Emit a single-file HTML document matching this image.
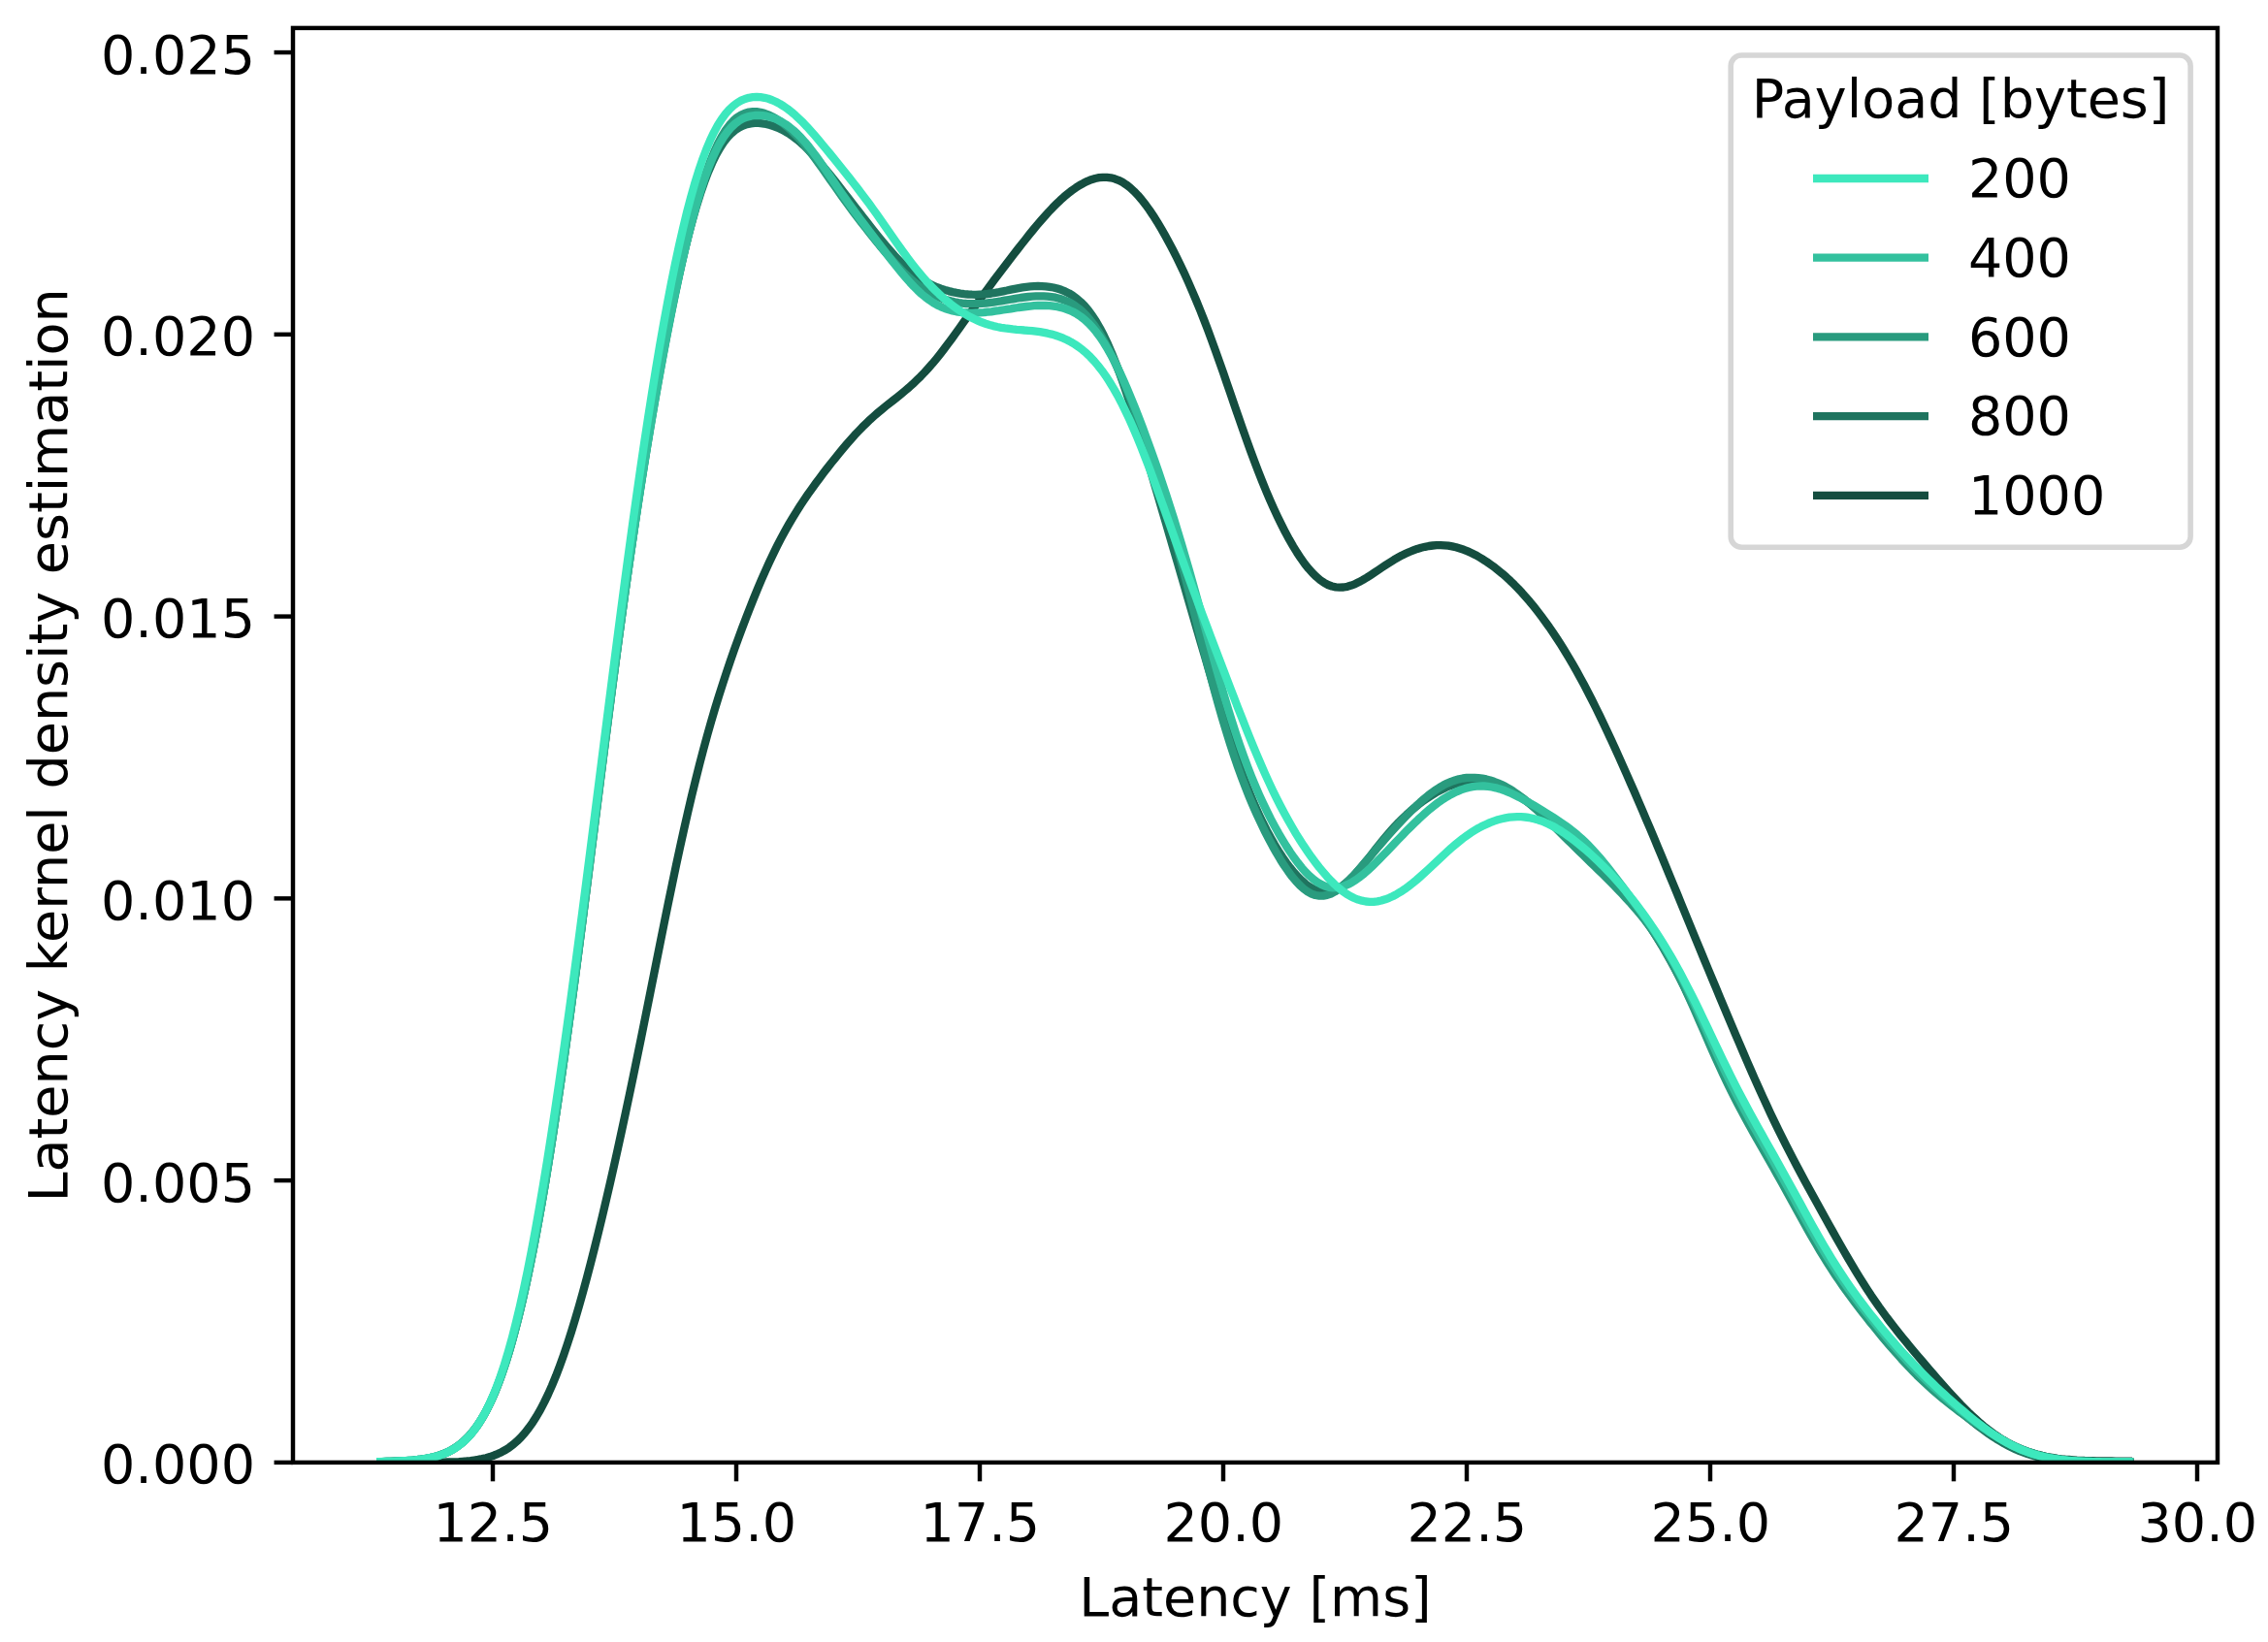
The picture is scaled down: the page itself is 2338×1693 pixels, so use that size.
<!DOCTYPE html>
<html lang="en"><head><meta charset="utf-8"><title>Latency kernel density estimation</title>
<style>html,body{margin:0;padding:0;background:#fff;}body{width:2338px;height:1693px;overflow:hidden;}svg{display:block;}text{font-family:"DejaVu Sans","Liberation Sans",sans-serif;font-size:55.56px;fill:#000;}</style></head><body>
<svg xmlns="http://www.w3.org/2000/svg" width="2338" height="1693" viewBox="0 0 2338 1693">
<rect x="0" y="0" width="2338" height="1693" fill="#ffffff"/>
<defs><clipPath id="axclip"><rect x="302.00" y="28.90" width="1984.00" height="1479.00"/></clipPath></defs>
<g clip-path="url(#axclip)" fill="none" stroke-width="8.33" stroke-linejoin="round" stroke-linecap="butt">
<path d="M441.0 1507.7 L445.0 1507.7 L449.0 1507.7 L453.0 1507.7 L457.0 1507.6 L461.0 1507.5 L465.0 1507.4 L469.0 1507.3 L473.0 1507.1 L477.0 1506.8 L481.0 1506.5 L485.0 1506.1 L489.0 1505.5 L493.0 1504.9 L497.0 1504.1 L501.0 1503.2 L505.0 1502.1 L509.0 1500.7 L513.0 1499.1 L517.0 1497.2 L521.0 1495.0 L525.0 1492.4 L529.0 1489.4 L533.0 1485.9 L537.0 1482.0 L541.0 1477.5 L545.0 1472.4 L549.0 1466.8 L553.0 1460.5 L557.0 1453.6 L561.0 1445.9 L565.0 1437.6 L569.0 1428.6 L573.0 1418.9 L577.0 1408.4 L581.0 1397.3 L585.0 1385.5 L589.0 1373.1 L593.0 1360.0 L597.0 1346.3 L601.0 1332.1 L605.0 1317.4 L609.0 1302.1 L613.0 1286.4 L617.0 1270.3 L621.0 1253.7 L625.0 1236.8 L629.0 1219.5 L633.0 1201.8 L637.0 1183.8 L641.0 1165.5 L645.0 1146.9 L649.0 1128.0 L653.0 1108.8 L657.0 1089.4 L661.0 1069.8 L665.0 1050.0 L669.0 1030.1 L673.0 1010.1 L677.0 990.1 L681.0 970.1 L685.0 950.3 L689.0 930.6 L693.0 911.3 L697.0 892.2 L701.0 873.6 L705.0 855.5 L709.0 837.9 L713.0 820.8 L717.0 804.4 L721.0 788.5 L725.0 773.2 L729.0 758.5 L733.0 744.4 L737.0 730.8 L741.0 717.8 L745.0 705.2 L749.0 693.0 L753.0 681.2 L757.0 669.7 L761.0 658.6 L765.0 647.7 L769.0 637.2 L773.0 626.9 L777.0 616.9 L781.0 607.2 L785.0 597.7 L789.0 588.6 L793.0 579.8 L797.0 571.4 L801.0 563.2 L805.0 555.4 L809.0 548.0 L813.0 540.9 L817.0 534.1 L821.0 527.6 L825.0 521.3 L829.0 515.3 L833.0 509.4 L837.0 503.8 L841.0 498.3 L845.0 492.9 L849.0 487.6 L853.0 482.4 L857.0 477.3 L861.0 472.3 L865.0 467.3 L869.0 462.5 L873.0 457.8 L877.0 453.2 L881.0 448.7 L885.0 444.5 L889.0 440.3 L893.0 436.4 L897.0 432.6 L901.0 429.0 L905.0 425.5 L909.0 422.2 L913.0 418.9 L917.0 415.7 L921.0 412.6 L925.0 409.4 L929.0 406.2 L933.0 402.9 L937.0 399.5 L941.0 395.9 L945.0 392.1 L949.0 388.2 L953.0 384.0 L957.0 379.6 L961.0 375.1 L965.0 370.3 L969.0 365.3 L973.0 360.1 L977.0 354.8 L981.0 349.4 L985.0 343.9 L989.0 338.3 L993.0 332.7 L997.0 327.1 L1001.0 321.5 L1005.0 315.9 L1009.0 310.3 L1013.0 304.8 L1017.0 299.4 L1021.0 294.0 L1025.0 288.6 L1029.0 283.3 L1033.0 278.0 L1037.0 272.7 L1041.0 267.5 L1045.0 262.3 L1049.0 257.1 L1053.0 252.0 L1057.0 247.0 L1061.0 241.9 L1065.0 237.0 L1069.0 232.2 L1073.0 227.5 L1077.0 222.9 L1081.0 218.5 L1085.0 214.3 L1089.0 210.3 L1093.0 206.4 L1097.0 202.8 L1101.0 199.5 L1105.0 196.4 L1109.0 193.6 L1113.0 191.0 L1117.0 188.8 L1121.0 186.8 L1125.0 185.2 L1129.0 184.0 L1133.0 183.2 L1137.0 182.8 L1141.0 182.8 L1145.0 183.3 L1149.0 184.3 L1153.0 185.8 L1157.0 187.8 L1161.0 190.4 L1165.0 193.5 L1169.0 197.2 L1173.0 201.3 L1177.0 206.0 L1181.0 211.1 L1185.0 216.6 L1189.0 222.6 L1193.0 228.9 L1197.0 235.6 L1201.0 242.6 L1205.0 249.9 L1209.0 257.5 L1213.0 265.4 L1217.0 273.6 L1221.0 282.1 L1225.0 290.9 L1229.0 300.1 L1233.0 309.5 L1237.0 319.3 L1241.0 329.4 L1245.0 339.8 L1249.0 350.6 L1253.0 361.6 L1257.0 372.8 L1261.0 384.2 L1265.0 395.8 L1269.0 407.4 L1273.0 419.1 L1277.0 430.7 L1281.0 442.1 L1285.0 453.4 L1289.0 464.5 L1293.0 475.3 L1297.0 485.8 L1301.0 495.9 L1305.0 505.7 L1309.0 515.1 L1313.0 524.1 L1317.0 532.7 L1321.0 540.9 L1325.0 548.8 L1329.0 556.2 L1333.0 563.1 L1337.0 569.6 L1341.0 575.7 L1345.0 581.3 L1349.0 586.3 L1353.0 590.8 L1357.0 594.7 L1361.0 598.1 L1365.0 600.8 L1369.0 603.0 L1373.0 604.5 L1377.0 605.4 L1381.0 605.7 L1385.0 605.5 L1389.0 604.8 L1393.0 603.6 L1397.0 602.1 L1401.0 600.1 L1405.0 597.9 L1409.0 595.5 L1413.0 592.9 L1417.0 590.3 L1421.0 587.6 L1425.0 584.9 L1429.0 582.2 L1433.0 579.7 L1437.0 577.2 L1441.0 574.9 L1445.0 572.7 L1449.0 570.8 L1453.0 569.0 L1457.0 567.4 L1461.0 565.9 L1465.0 564.7 L1469.0 563.8 L1473.0 563.0 L1477.0 562.5 L1481.0 562.2 L1485.0 562.1 L1489.0 562.3 L1493.0 562.7 L1497.0 563.4 L1501.0 564.3 L1505.0 565.5 L1509.0 566.8 L1513.0 568.4 L1517.0 570.2 L1521.0 572.2 L1525.0 574.5 L1529.0 576.9 L1533.0 579.5 L1537.0 582.3 L1541.0 585.2 L1545.0 588.4 L1549.0 591.7 L1553.0 595.2 L1557.0 598.9 L1561.0 602.8 L1565.0 606.9 L1569.0 611.2 L1573.0 615.7 L1577.0 620.3 L1581.0 625.2 L1585.0 630.3 L1589.0 635.5 L1593.0 640.9 L1597.0 646.5 L1601.0 652.4 L1605.0 658.4 L1609.0 664.6 L1613.0 671.0 L1617.0 677.6 L1621.0 684.4 L1625.0 691.4 L1629.0 698.7 L1633.0 706.1 L1637.0 713.7 L1641.0 721.5 L1645.0 729.5 L1649.0 737.7 L1653.0 746.0 L1657.0 754.5 L1661.0 763.1 L1665.0 771.8 L1669.0 780.6 L1673.0 789.6 L1677.0 798.6 L1681.0 807.7 L1685.0 816.8 L1689.0 826.1 L1693.0 835.4 L1697.0 844.8 L1701.0 854.2 L1705.0 863.7 L1709.0 873.3 L1713.0 882.9 L1717.0 892.6 L1721.0 902.3 L1725.0 912.0 L1729.0 921.7 L1733.0 931.5 L1737.0 941.3 L1741.0 951.0 L1745.0 960.8 L1749.0 970.5 L1753.0 980.2 L1757.0 989.9 L1761.0 999.5 L1765.0 1009.1 L1769.0 1018.7 L1773.0 1028.3 L1777.0 1037.9 L1781.0 1047.4 L1785.0 1056.8 L1789.0 1066.3 L1793.0 1075.7 L1797.0 1085.0 L1801.0 1094.3 L1805.0 1103.5 L1809.0 1112.6 L1813.0 1121.5 L1817.0 1130.4 L1821.0 1139.1 L1825.0 1147.7 L1829.0 1156.1 L1833.0 1164.3 L1837.0 1172.4 L1841.0 1180.4 L1845.0 1188.2 L1849.0 1195.9 L1853.0 1203.5 L1857.0 1211.0 L1861.0 1218.4 L1865.0 1225.8 L1869.0 1233.1 L1873.0 1240.3 L1877.0 1247.6 L1881.0 1254.8 L1885.0 1262.0 L1889.0 1269.1 L1893.0 1276.3 L1897.0 1283.3 L1901.0 1290.3 L1905.0 1297.2 L1909.0 1303.9 L1913.0 1310.6 L1917.0 1317.1 L1921.0 1323.5 L1925.0 1329.7 L1929.0 1335.8 L1933.0 1341.6 L1937.0 1347.4 L1941.0 1352.9 L1945.0 1358.4 L1949.0 1363.6 L1953.0 1368.8 L1957.0 1373.9 L1961.0 1378.8 L1965.0 1383.7 L1969.0 1388.6 L1973.0 1393.4 L1977.0 1398.1 L1981.0 1402.8 L1985.0 1407.5 L1989.0 1412.2 L1993.0 1416.8 L1997.0 1421.4 L2001.0 1426.0 L2005.0 1430.5 L2009.0 1435.0 L2013.0 1439.4 L2017.0 1443.7 L2021.0 1447.9 L2025.0 1451.9 L2029.0 1455.9 L2033.0 1459.7 L2037.0 1463.4 L2041.0 1467.0 L2045.0 1470.4 L2049.0 1473.6 L2053.0 1476.6 L2057.0 1479.5 L2061.0 1482.2 L2065.0 1484.7 L2069.0 1487.0 L2073.0 1489.2 L2077.0 1491.2 L2081.0 1493.0 L2085.0 1494.7 L2089.0 1496.2 L2093.0 1497.6 L2097.0 1498.8 L2101.0 1499.9 L2105.0 1500.9 L2109.0 1501.8 L2113.0 1502.5 L2117.0 1503.2 L2121.0 1503.8 L2125.0 1504.3 L2129.0 1504.7 L2133.0 1505.0 L2137.0 1505.3 L2141.0 1505.6 L2145.0 1505.8 L2149.0 1506.0 L2153.0 1506.1 L2157.0 1506.2 L2161.0 1506.3 L2165.0 1506.4 L2169.0 1506.4 L2173.0 1506.5 L2177.0 1506.5 L2181.0 1506.6 L2185.0 1506.6 L2189.0 1506.6 L2193.0 1506.7 L2197.0 1506.7 L2198.0 1506.7" stroke="#144d3f"/>
<path d="M394.0 1507.1 L398.0 1507.0 L402.0 1506.9 L406.0 1506.7 L410.0 1506.6 L414.0 1506.4 L418.0 1506.2 L422.0 1505.9 L426.0 1505.6 L430.0 1505.2 L434.0 1504.7 L438.0 1504.1 L442.0 1503.4 L446.0 1502.5 L450.0 1501.5 L454.0 1500.2 L458.0 1498.7 L462.0 1497.0 L466.0 1494.9 L470.0 1492.4 L474.0 1489.5 L478.0 1486.2 L482.0 1482.3 L486.0 1477.9 L490.0 1472.8 L494.0 1467.1 L498.0 1460.5 L502.0 1453.2 L506.0 1445.0 L510.0 1436.0 L514.0 1425.9 L518.0 1414.8 L522.0 1402.7 L526.0 1389.5 L530.0 1375.2 L534.0 1359.8 L538.0 1343.2 L542.0 1325.5 L546.0 1306.6 L550.0 1286.5 L554.0 1265.3 L558.0 1243.0 L562.0 1219.7 L566.0 1195.2 L570.0 1169.8 L574.0 1143.4 L578.0 1116.2 L582.0 1088.1 L586.0 1059.2 L590.0 1029.7 L594.0 999.6 L598.0 969.0 L602.0 938.0 L606.0 906.7 L610.0 875.1 L614.0 843.5 L618.0 811.9 L622.0 780.4 L626.0 749.1 L630.0 718.2 L634.0 687.6 L638.0 657.5 L642.0 628.0 L646.0 599.1 L650.0 570.9 L654.0 543.4 L658.0 516.6 L662.0 490.5 L666.0 465.3 L670.0 440.8 L674.0 417.1 L678.0 394.2 L682.0 372.1 L686.0 350.8 L690.0 330.3 L694.0 310.6 L698.0 291.9 L702.0 274.0 L706.0 257.1 L710.0 241.2 L714.0 226.3 L718.0 212.4 L722.0 199.7 L726.0 188.1 L730.0 177.6 L734.0 168.3 L738.0 160.0 L742.0 152.9 L746.0 146.8 L750.0 141.7 L754.0 137.5 L758.0 134.1 L762.0 131.5 L766.0 129.5 L770.0 128.1 L774.0 127.3 L778.0 126.9 L782.0 126.9 L786.0 127.3 L790.0 128.0 L794.0 129.0 L798.0 130.3 L802.0 131.8 L806.0 133.7 L810.0 135.9 L814.0 138.3 L818.0 141.1 L822.0 144.2 L826.0 147.6 L830.0 151.3 L834.0 155.3 L838.0 159.5 L842.0 163.9 L846.0 168.5 L850.0 173.3 L854.0 178.2 L858.0 183.2 L862.0 188.2 L866.0 193.3 L870.0 198.5 L874.0 203.6 L878.0 208.8 L882.0 214.0 L886.0 219.1 L890.0 224.3 L894.0 229.4 L898.0 234.5 L902.0 239.5 L906.0 244.5 L910.0 249.4 L914.0 254.2 L918.0 258.8 L922.0 263.3 L926.0 267.5 L930.0 271.6 L934.0 275.4 L938.0 278.9 L942.0 282.2 L946.0 285.2 L950.0 287.9 L954.0 290.3 L958.0 292.5 L962.0 294.4 L966.0 296.2 L970.0 297.7 L974.0 299.0 L978.0 300.1 L982.0 301.1 L986.0 301.9 L990.0 302.6 L994.0 303.1 L998.0 303.5 L1002.0 303.7 L1006.0 303.8 L1010.0 303.6 L1014.0 303.4 L1018.0 303.0 L1022.0 302.5 L1026.0 301.8 L1030.0 301.1 L1034.0 300.3 L1038.0 299.5 L1042.0 298.6 L1046.0 297.8 L1050.0 297.1 L1054.0 296.4 L1058.0 295.8 L1062.0 295.4 L1066.0 295.1 L1070.0 295.0 L1074.0 295.1 L1078.0 295.3 L1082.0 295.8 L1086.0 296.5 L1090.0 297.5 L1094.0 298.8 L1098.0 300.4 L1102.0 302.4 L1106.0 304.9 L1110.0 307.8 L1114.0 311.3 L1118.0 315.3 L1122.0 320.0 L1126.0 325.4 L1130.0 331.6 L1134.0 338.5 L1138.0 346.2 L1142.0 354.6 L1146.0 363.8 L1150.0 373.7 L1154.0 384.3 L1158.0 395.5 L1162.0 407.3 L1166.0 419.5 L1170.0 432.1 L1174.0 445.1 L1178.0 458.2 L1182.0 471.6 L1186.0 485.1 L1190.0 498.7 L1194.0 512.3 L1198.0 526.0 L1202.0 539.6 L1206.0 553.3 L1210.0 567.0 L1214.0 580.6 L1218.0 594.3 L1222.0 608.0 L1226.0 621.8 L1230.0 635.5 L1234.0 649.3 L1238.0 663.0 L1242.0 676.7 L1246.0 690.3 L1250.0 703.8 L1254.0 717.2 L1258.0 730.3 L1262.0 743.2 L1266.0 755.7 L1270.0 767.9 L1274.0 779.6 L1278.0 790.9 L1282.0 801.8 L1286.0 812.1 L1290.0 821.9 L1294.0 831.3 L1298.0 840.1 L1302.0 848.5 L1306.0 856.4 L1310.0 863.8 L1314.0 870.8 L1318.0 877.4 L1322.0 883.6 L1326.0 889.4 L1330.0 894.7 L1334.0 899.6 L1338.0 904.1 L1342.0 908.0 L1346.0 911.5 L1350.0 914.4 L1354.0 916.7 L1358.0 918.3 L1362.0 919.4 L1366.0 919.7 L1370.0 919.4 L1374.0 918.4 L1378.0 916.7 L1382.0 914.5 L1386.0 911.6 L1390.0 908.2 L1394.0 904.3 L1398.0 900.1 L1402.0 895.5 L1406.0 890.7 L1410.0 885.8 L1414.0 880.7 L1418.0 875.6 L1422.0 870.6 L1426.0 865.7 L1430.0 860.9 L1434.0 856.3 L1438.0 851.9 L1442.0 847.7 L1446.0 843.7 L1450.0 839.9 L1454.0 836.3 L1458.0 833.0 L1462.0 829.7 L1466.0 826.7 L1470.0 823.9 L1474.0 821.2 L1478.0 818.7 L1482.0 816.3 L1486.0 814.2 L1490.0 812.2 L1494.0 810.5 L1498.0 809.0 L1502.0 807.7 L1506.0 806.6 L1510.0 805.8 L1514.0 805.3 L1518.0 805.0 L1522.0 805.0 L1526.0 805.2 L1530.0 805.7 L1534.0 806.5 L1538.0 807.5 L1542.0 808.8 L1546.0 810.3 L1550.0 812.0 L1554.0 814.0 L1558.0 816.1 L1562.0 818.5 L1566.0 821.0 L1570.0 823.6 L1574.0 826.4 L1578.0 829.4 L1582.0 832.4 L1586.0 835.4 L1590.0 838.6 L1594.0 841.7 L1598.0 844.9 L1602.0 848.1 L1606.0 851.3 L1610.0 854.5 L1614.0 857.8 L1618.0 861.0 L1622.0 864.3 L1626.0 867.6 L1630.0 871.0 L1634.0 874.5 L1638.0 878.1 L1642.0 881.8 L1646.0 885.7 L1650.0 889.7 L1654.0 893.9 L1658.0 898.3 L1662.0 902.8 L1666.0 907.5 L1670.0 912.4 L1674.0 917.5 L1678.0 922.7 L1682.0 928.1 L1686.0 933.6 L1690.0 939.2 L1694.0 945.0 L1698.0 950.9 L1702.0 957.1 L1706.0 963.3 L1710.0 969.8 L1714.0 976.4 L1718.0 983.3 L1722.0 990.4 L1726.0 997.7 L1730.0 1005.3 L1734.0 1013.0 L1738.0 1021.1 L1742.0 1029.3 L1746.0 1037.7 L1750.0 1046.2 L1754.0 1054.9 L1758.0 1063.6 L1762.0 1072.3 L1766.0 1081.1 L1770.0 1089.8 L1774.0 1098.3 L1778.0 1106.8 L1782.0 1115.1 L1786.0 1123.3 L1790.0 1131.3 L1794.0 1139.1 L1798.0 1146.8 L1802.0 1154.3 L1806.0 1161.7 L1810.0 1168.9 L1814.0 1176.2 L1818.0 1183.3 L1822.0 1190.4 L1826.0 1197.5 L1830.0 1204.7 L1834.0 1211.8 L1838.0 1218.9 L1842.0 1226.1 L1846.0 1233.3 L1850.0 1240.5 L1854.0 1247.6 L1858.0 1254.8 L1862.0 1261.8 L1866.0 1268.8 L1870.0 1275.7 L1874.0 1282.5 L1878.0 1289.2 L1882.0 1295.7 L1886.0 1302.1 L1890.0 1308.3 L1894.0 1314.4 L1898.0 1320.4 L1902.0 1326.2 L1906.0 1331.9 L1910.0 1337.5 L1914.0 1343.0 L1918.0 1348.3 L1922.0 1353.6 L1926.0 1358.8 L1930.0 1363.8 L1934.0 1368.8 L1938.0 1373.7 L1942.0 1378.5 L1946.0 1383.2 L1950.0 1387.8 L1954.0 1392.3 L1958.0 1396.7 L1962.0 1401.1 L1966.0 1405.3 L1970.0 1409.4 L1974.0 1413.4 L1978.0 1417.3 L1982.0 1421.1 L1986.0 1424.9 L1990.0 1428.6 L1994.0 1432.2 L1998.0 1435.8 L2002.0 1439.3 L2006.0 1442.8 L2010.0 1446.3 L2014.0 1449.7 L2018.0 1453.1 L2022.0 1456.5 L2026.0 1459.8 L2030.0 1463.1 L2034.0 1466.3 L2038.0 1469.4 L2042.0 1472.5 L2046.0 1475.4 L2050.0 1478.3 L2054.0 1481.0 L2058.0 1483.6 L2062.0 1486.0 L2066.0 1488.4 L2070.0 1490.5 L2074.0 1492.5 L2078.0 1494.4 L2082.0 1496.1 L2086.0 1497.6 L2090.0 1499.0 L2094.0 1500.3 L2098.0 1501.4 L2102.0 1502.4 L2106.0 1503.3 L2110.0 1504.0 L2114.0 1504.7 L2118.0 1505.2 L2122.0 1505.7 L2126.0 1506.1 L2130.0 1506.5 L2134.0 1506.7 L2138.0 1507.0 L2142.0 1507.2 L2146.0 1507.3 L2150.0 1507.4 L2154.0 1507.5 L2158.0 1507.6 L2162.0 1507.6 L2166.0 1507.6 L2170.0 1507.6 L2174.0 1507.6 L2178.0 1507.6 L2182.0 1507.6 L2186.0 1507.6 L2190.0 1507.5 L2194.0 1507.5 L2198.0 1507.4 L2199.0 1507.4" stroke="#1f745f"/>
<path d="M392.0 1507.2 L396.0 1507.1 L400.0 1507.0 L404.0 1506.9 L408.0 1506.7 L412.0 1506.5 L416.0 1506.3 L420.0 1506.1 L424.0 1505.8 L428.0 1505.4 L432.0 1505.0 L436.0 1504.4 L440.0 1503.8 L444.0 1503.0 L448.0 1502.0 L452.0 1500.9 L456.0 1499.5 L460.0 1497.8 L464.0 1495.9 L468.0 1493.6 L472.0 1490.9 L476.0 1487.8 L480.0 1484.2 L484.0 1480.0 L488.0 1475.3 L492.0 1469.9 L496.0 1463.8 L500.0 1456.9 L504.0 1449.2 L508.0 1440.6 L512.0 1431.1 L516.0 1420.6 L520.0 1409.0 L524.0 1396.5 L528.0 1382.8 L532.0 1368.0 L536.0 1352.0 L540.0 1334.9 L544.0 1316.6 L548.0 1297.2 L552.0 1276.6 L556.0 1254.8 L560.0 1232.0 L564.0 1208.0 L568.0 1183.0 L572.0 1156.9 L576.0 1130.0 L580.0 1102.1 L584.0 1073.5 L588.0 1044.1 L592.0 1014.0 L596.0 983.4 L600.0 952.4 L604.0 921.1 L608.0 889.5 L612.0 857.8 L616.0 826.1 L620.0 794.6 L624.0 763.2 L628.0 732.2 L632.0 701.7 L636.0 671.6 L640.0 642.1 L644.0 613.2 L648.0 585.1 L652.0 557.6 L656.0 530.9 L660.0 504.9 L664.0 479.7 L668.0 455.2 L672.0 431.4 L676.0 408.3 L680.0 385.9 L684.0 364.2 L688.0 343.2 L692.0 322.9 L696.0 303.3 L700.0 284.4 L704.0 266.4 L708.0 249.2 L712.0 232.9 L716.0 217.6 L720.0 203.2 L724.0 190.0 L728.0 177.8 L732.0 166.8 L736.0 157.0 L740.0 148.3 L744.0 140.7 L748.0 134.3 L752.0 128.9 L756.0 124.5 L760.0 121.0 L764.0 118.5 L768.0 116.7 L772.0 115.6 L776.0 115.1 L780.0 115.2 L784.0 115.8 L788.0 116.8 L792.0 118.3 L796.0 120.2 L800.0 122.4 L804.0 125.0 L808.0 128.0 L812.0 131.3 L816.0 135.0 L820.0 138.9 L824.0 143.2 L828.0 147.8 L832.0 152.7 L836.0 157.8 L840.0 163.1 L844.0 168.6 L848.0 174.1 L852.0 179.8 L856.0 185.5 L860.0 191.2 L864.0 196.9 L868.0 202.5 L872.0 208.0 L876.0 213.5 L880.0 218.9 L884.0 224.2 L888.0 229.4 L892.0 234.5 L896.0 239.6 L900.0 244.6 L904.0 249.6 L908.0 254.5 L912.0 259.2 L916.0 263.9 L920.0 268.5 L924.0 272.9 L928.0 277.2 L932.0 281.2 L936.0 285.0 L940.0 288.6 L944.0 292.0 L948.0 295.1 L952.0 297.9 L956.0 300.4 L960.0 302.7 L964.0 304.7 L968.0 306.5 L972.0 308.0 L976.0 309.4 L980.0 310.4 L984.0 311.3 L988.0 312.1 L992.0 312.6 L996.0 313.0 L1000.0 313.2 L1004.0 313.2 L1008.0 313.1 L1012.0 312.9 L1016.0 312.6 L1020.0 312.1 L1024.0 311.6 L1028.0 311.0 L1032.0 310.4 L1036.0 309.7 L1040.0 309.0 L1044.0 308.3 L1048.0 307.6 L1052.0 307.0 L1056.0 306.5 L1060.0 306.0 L1064.0 305.7 L1068.0 305.4 L1072.0 305.3 L1076.0 305.4 L1080.0 305.6 L1084.0 306.1 L1088.0 306.7 L1092.0 307.7 L1096.0 309.0 L1100.0 310.6 L1104.0 312.6 L1108.0 315.1 L1112.0 318.0 L1116.0 321.5 L1120.0 325.5 L1124.0 330.2 L1128.0 335.4 L1132.0 341.3 L1136.0 347.7 L1140.0 354.8 L1144.0 362.5 L1148.0 370.7 L1152.0 379.5 L1156.0 388.7 L1160.0 398.4 L1164.0 408.6 L1168.0 419.1 L1172.0 430.0 L1176.0 441.2 L1180.0 452.8 L1184.0 464.7 L1188.0 477.0 L1192.0 489.6 L1196.0 502.7 L1200.0 516.0 L1204.0 529.8 L1208.0 544.0 L1212.0 558.5 L1216.0 573.3 L1220.0 588.5 L1224.0 603.9 L1228.0 619.5 L1232.0 635.2 L1236.0 650.9 L1240.0 666.6 L1244.0 682.1 L1248.0 697.3 L1252.0 712.1 L1256.0 726.6 L1260.0 740.5 L1264.0 753.9 L1268.0 766.7 L1272.0 779.0 L1276.0 790.6 L1280.0 801.6 L1284.0 812.1 L1288.0 822.1 L1292.0 831.5 L1296.0 840.5 L1300.0 849.1 L1304.0 857.3 L1308.0 865.1 L1312.0 872.6 L1316.0 879.7 L1320.0 886.4 L1324.0 892.7 L1328.0 898.5 L1332.0 903.9 L1336.0 908.7 L1340.0 912.9 L1344.0 916.5 L1348.0 919.4 L1352.0 921.6 L1356.0 923.0 L1360.0 923.7 L1364.0 923.7 L1368.0 922.9 L1372.0 921.5 L1376.0 919.4 L1380.0 916.8 L1384.0 913.7 L1388.0 910.1 L1392.0 906.2 L1396.0 902.0 L1400.0 897.6 L1404.0 893.0 L1408.0 888.3 L1412.0 883.6 L1416.0 878.9 L1420.0 874.1 L1424.0 869.5 L1428.0 864.8 L1432.0 860.3 L1436.0 855.8 L1440.0 851.4 L1444.0 847.1 L1448.0 842.9 L1452.0 838.8 L1456.0 834.8 L1460.0 830.9 L1464.0 827.2 L1468.0 823.7 L1472.0 820.4 L1476.0 817.3 L1480.0 814.5 L1484.0 811.9 L1488.0 809.6 L1492.0 807.6 L1496.0 805.9 L1500.0 804.5 L1504.0 803.3 L1508.0 802.5 L1512.0 802.0 L1516.0 801.8 L1520.0 801.8 L1524.0 802.1 L1528.0 802.6 L1532.0 803.4 L1536.0 804.5 L1540.0 805.8 L1544.0 807.3 L1548.0 809.1 L1552.0 811.1 L1556.0 813.4 L1560.0 815.9 L1564.0 818.6 L1568.0 821.5 L1572.0 824.6 L1576.0 827.9 L1580.0 831.3 L1584.0 834.9 L1588.0 838.6 L1592.0 842.4 L1596.0 846.2 L1600.0 850.1 L1604.0 854.1 L1608.0 858.0 L1612.0 862.0 L1616.0 865.9 L1620.0 869.8 L1624.0 873.8 L1628.0 877.7 L1632.0 881.6 L1636.0 885.5 L1640.0 889.4 L1644.0 893.3 L1648.0 897.2 L1652.0 901.1 L1656.0 905.1 L1660.0 909.1 L1664.0 913.2 L1668.0 917.3 L1672.0 921.5 L1676.0 925.8 L1680.0 930.1 L1684.0 934.7 L1688.0 939.3 L1692.0 944.2 L1696.0 949.2 L1700.0 954.6 L1704.0 960.2 L1708.0 966.1 L1712.0 972.3 L1716.0 978.9 L1720.0 985.9 L1724.0 993.3 L1728.0 1001.0 L1732.0 1009.0 L1736.0 1017.3 L1740.0 1026.0 L1744.0 1034.8 L1748.0 1043.8 L1752.0 1053.0 L1756.0 1062.2 L1760.0 1071.4 L1764.0 1080.5 L1768.0 1089.5 L1772.0 1098.3 L1776.0 1107.0 L1780.0 1115.4 L1784.0 1123.6 L1788.0 1131.6 L1792.0 1139.4 L1796.0 1146.9 L1800.0 1154.3 L1804.0 1161.5 L1808.0 1168.7 L1812.0 1175.7 L1816.0 1182.7 L1820.0 1189.7 L1824.0 1196.7 L1828.0 1203.8 L1832.0 1210.9 L1836.0 1218.0 L1840.0 1225.2 L1844.0 1232.5 L1848.0 1239.7 L1852.0 1247.0 L1856.0 1254.3 L1860.0 1261.5 L1864.0 1268.6 L1868.0 1275.6 L1872.0 1282.5 L1876.0 1289.3 L1880.0 1295.8 L1884.0 1302.3 L1888.0 1308.5 L1892.0 1314.6 L1896.0 1320.5 L1900.0 1326.3 L1904.0 1331.9 L1908.0 1337.4 L1912.0 1342.7 L1916.0 1348.0 L1920.0 1353.2 L1924.0 1358.3 L1928.0 1363.3 L1932.0 1368.2 L1936.0 1373.1 L1940.0 1378.0 L1944.0 1382.8 L1948.0 1387.5 L1952.0 1392.1 L1956.0 1396.6 L1960.0 1401.1 L1964.0 1405.4 L1968.0 1409.7 L1972.0 1413.8 L1976.0 1417.9 L1980.0 1421.8 L1984.0 1425.6 L1988.0 1429.3 L1992.0 1432.9 L1996.0 1436.4 L2000.0 1439.7 L2004.0 1443.1 L2008.0 1446.3 L2012.0 1449.4 L2016.0 1452.5 L2020.0 1455.6 L2024.0 1458.5 L2028.0 1461.4 L2032.0 1464.3 L2036.0 1467.1 L2040.0 1469.8 L2044.0 1472.5 L2048.0 1475.1 L2052.0 1477.7 L2056.0 1480.1 L2060.0 1482.5 L2064.0 1484.7 L2068.0 1486.9 L2072.0 1488.9 L2076.0 1490.8 L2080.0 1492.6 L2084.0 1494.3 L2088.0 1495.8 L2092.0 1497.3 L2096.0 1498.6 L2100.0 1499.8 L2104.0 1500.9 L2108.0 1501.8 L2112.0 1502.7 L2116.0 1503.4 L2120.0 1504.1 L2124.0 1504.7 L2128.0 1505.2 L2132.0 1505.6 L2136.0 1506.0 L2140.0 1506.3 L2144.0 1506.6 L2148.0 1506.8 L2152.0 1507.0 L2156.0 1507.1 L2160.0 1507.2 L2164.0 1507.3 L2168.0 1507.4 L2172.0 1507.4 L2176.0 1507.4 L2180.0 1507.5 L2184.0 1507.5 L2188.0 1507.5 L2192.0 1507.5 L2196.0 1507.5 L2200.0 1507.4" stroke="#299b7e"/>
<path d="M390.0 1507.2 L394.0 1507.1 L398.0 1507.0 L402.0 1506.9 L406.0 1506.8 L410.0 1506.6 L414.0 1506.4 L418.0 1506.2 L422.0 1505.9 L426.0 1505.6 L430.0 1505.2 L434.0 1504.7 L438.0 1504.1 L442.0 1503.4 L446.0 1502.5 L450.0 1501.5 L454.0 1500.2 L458.0 1498.7 L462.0 1496.9 L466.0 1494.8 L470.0 1492.3 L474.0 1489.4 L478.0 1486.1 L482.0 1482.2 L486.0 1477.8 L490.0 1472.7 L494.0 1466.9 L498.0 1460.4 L502.0 1453.2 L506.0 1445.0 L510.0 1436.0 L514.0 1426.0 L518.0 1415.0 L522.0 1402.9 L526.0 1389.8 L530.0 1375.5 L534.0 1360.2 L538.0 1343.6 L542.0 1325.9 L546.0 1307.0 L550.0 1287.0 L554.0 1265.8 L558.0 1243.5 L562.0 1220.0 L566.0 1195.5 L570.0 1169.9 L574.0 1143.4 L578.0 1116.0 L582.0 1087.7 L586.0 1058.7 L590.0 1029.0 L594.0 998.7 L598.0 967.9 L602.0 936.8 L606.0 905.3 L610.0 873.7 L614.0 842.1 L618.0 810.5 L622.0 779.1 L626.0 748.0 L630.0 717.2 L634.0 686.9 L638.0 657.2 L642.0 628.0 L646.0 599.4 L650.0 571.6 L654.0 544.4 L658.0 518.0 L662.0 492.2 L666.0 467.2 L670.0 442.9 L674.0 419.3 L678.0 396.4 L682.0 374.3 L686.0 352.8 L690.0 332.1 L694.0 312.1 L698.0 292.9 L702.0 274.6 L706.0 257.2 L710.0 240.7 L714.0 225.2 L718.0 210.7 L722.0 197.3 L726.0 185.1 L730.0 174.0 L734.0 164.1 L738.0 155.4 L742.0 147.7 L746.0 141.2 L750.0 135.7 L754.0 131.1 L758.0 127.4 L762.0 124.5 L766.0 122.2 L770.0 120.6 L774.0 119.6 L778.0 119.0 L782.0 118.9 L786.0 119.1 L790.0 119.7 L794.0 120.7 L798.0 122.0 L802.0 123.7 L806.0 125.8 L810.0 128.2 L814.0 131.1 L818.0 134.4 L822.0 138.1 L826.0 142.2 L830.0 146.7 L834.0 151.5 L838.0 156.7 L842.0 162.1 L846.0 167.7 L850.0 173.5 L854.0 179.3 L858.0 185.2 L862.0 191.1 L866.0 197.0 L870.0 202.7 L874.0 208.4 L878.0 214.0 L882.0 219.5 L886.0 224.9 L890.0 230.3 L894.0 235.6 L898.0 240.8 L902.0 246.1 L906.0 251.3 L910.0 256.5 L914.0 261.7 L918.0 266.9 L922.0 272.0 L926.0 277.0 L930.0 281.9 L934.0 286.6 L938.0 291.1 L942.0 295.4 L946.0 299.4 L950.0 303.1 L954.0 306.4 L958.0 309.4 L962.0 312.1 L966.0 314.4 L970.0 316.3 L974.0 318.0 L978.0 319.3 L982.0 320.4 L986.0 321.3 L990.0 321.9 L994.0 322.3 L998.0 322.5 L1002.0 322.6 L1006.0 322.5 L1010.0 322.4 L1014.0 322.1 L1018.0 321.7 L1022.0 321.3 L1026.0 320.7 L1030.0 320.2 L1034.0 319.5 L1038.0 318.9 L1042.0 318.3 L1046.0 317.6 L1050.0 317.0 L1054.0 316.5 L1058.0 316.0 L1062.0 315.6 L1066.0 315.2 L1070.0 315.0 L1074.0 314.9 L1078.0 315.0 L1082.0 315.2 L1086.0 315.6 L1090.0 316.2 L1094.0 317.1 L1098.0 318.3 L1102.0 319.7 L1106.0 321.5 L1110.0 323.7 L1114.0 326.4 L1118.0 329.5 L1122.0 333.2 L1126.0 337.4 L1130.0 342.2 L1134.0 347.5 L1138.0 353.5 L1142.0 360.1 L1146.0 367.2 L1150.0 374.9 L1154.0 383.1 L1158.0 391.8 L1162.0 400.9 L1166.0 410.5 L1170.0 420.4 L1174.0 430.6 L1178.0 441.1 L1182.0 451.9 L1186.0 462.9 L1190.0 474.2 L1194.0 485.7 L1198.0 497.5 L1202.0 509.6 L1206.0 522.0 L1210.0 534.6 L1214.0 547.6 L1218.0 560.9 L1222.0 574.6 L1226.0 588.5 L1230.0 602.6 L1234.0 617.0 L1238.0 631.5 L1242.0 646.1 L1246.0 660.7 L1250.0 675.2 L1254.0 689.6 L1258.0 703.7 L1262.0 717.5 L1266.0 730.9 L1270.0 743.8 L1274.0 756.2 L1278.0 768.1 L1282.0 779.5 L1286.0 790.2 L1290.0 800.5 L1294.0 810.2 L1298.0 819.4 L1302.0 828.1 L1306.0 836.4 L1310.0 844.4 L1314.0 851.9 L1318.0 859.1 L1322.0 865.9 L1326.0 872.4 L1330.0 878.5 L1334.0 884.3 L1338.0 889.7 L1342.0 894.7 L1346.0 899.2 L1350.0 903.2 L1354.0 906.7 L1358.0 909.6 L1362.0 911.9 L1366.0 913.7 L1370.0 914.8 L1374.0 915.3 L1378.0 915.2 L1382.0 914.6 L1386.0 913.4 L1390.0 911.7 L1394.0 909.6 L1398.0 907.0 L1402.0 904.1 L1406.0 900.9 L1410.0 897.4 L1414.0 893.7 L1418.0 889.8 L1422.0 885.8 L1426.0 881.7 L1430.0 877.6 L1434.0 873.4 L1438.0 869.2 L1442.0 865.0 L1446.0 860.8 L1450.0 856.7 L1454.0 852.7 L1458.0 848.8 L1462.0 844.9 L1466.0 841.2 L1470.0 837.6 L1474.0 834.2 L1478.0 831.0 L1482.0 827.9 L1486.0 825.1 L1490.0 822.5 L1494.0 820.1 L1498.0 818.0 L1502.0 816.1 L1506.0 814.4 L1510.0 813.1 L1514.0 812.0 L1518.0 811.2 L1522.0 810.7 L1526.0 810.5 L1530.0 810.5 L1534.0 810.9 L1538.0 811.5 L1542.0 812.3 L1546.0 813.4 L1550.0 814.7 L1554.0 816.3 L1558.0 818.0 L1562.0 819.9 L1566.0 821.9 L1570.0 824.1 L1574.0 826.3 L1578.0 828.6 L1582.0 830.9 L1586.0 833.3 L1590.0 835.8 L1594.0 838.2 L1598.0 840.7 L1602.0 843.3 L1606.0 845.9 L1610.0 848.6 L1614.0 851.4 L1618.0 854.4 L1622.0 857.5 L1626.0 860.8 L1630.0 864.3 L1634.0 868.1 L1638.0 872.0 L1642.0 876.3 L1646.0 880.7 L1650.0 885.3 L1654.0 890.1 L1658.0 895.1 L1662.0 900.2 L1666.0 905.5 L1670.0 910.8 L1674.0 916.1 L1678.0 921.5 L1682.0 927.0 L1686.0 932.4 L1690.0 937.9 L1694.0 943.5 L1698.0 949.1 L1702.0 954.8 L1706.0 960.7 L1710.0 966.8 L1714.0 973.1 L1718.0 979.6 L1722.0 986.4 L1726.0 993.6 L1730.0 1001.0 L1734.0 1008.7 L1738.0 1016.7 L1742.0 1025.0 L1746.0 1033.6 L1750.0 1042.3 L1754.0 1051.1 L1758.0 1060.0 L1762.0 1069.0 L1766.0 1077.9 L1770.0 1086.7 L1774.0 1095.4 L1778.0 1104.0 L1782.0 1112.3 L1786.0 1120.5 L1790.0 1128.4 L1794.0 1136.2 L1798.0 1143.7 L1802.0 1151.1 L1806.0 1158.4 L1810.0 1165.5 L1814.0 1172.6 L1818.0 1179.7 L1822.0 1186.7 L1826.0 1193.8 L1830.0 1200.9 L1834.0 1208.0 L1838.0 1215.2 L1842.0 1222.5 L1846.0 1229.7 L1850.0 1237.0 L1854.0 1244.4 L1858.0 1251.6 L1862.0 1258.9 L1866.0 1266.0 L1870.0 1273.0 L1874.0 1280.0 L1878.0 1286.7 L1882.0 1293.3 L1886.0 1299.8 L1890.0 1306.1 L1894.0 1312.2 L1898.0 1318.1 L1902.0 1323.9 L1906.0 1329.5 L1910.0 1335.0 L1914.0 1340.4 L1918.0 1345.7 L1922.0 1350.9 L1926.0 1356.0 L1930.0 1361.0 L1934.0 1366.0 L1938.0 1370.9 L1942.0 1375.7 L1946.0 1380.5 L1950.0 1385.2 L1954.0 1389.8 L1958.0 1394.3 L1962.0 1398.7 L1966.0 1403.1 L1970.0 1407.4 L1974.0 1411.5 L1978.0 1415.6 L1982.0 1419.6 L1986.0 1423.4 L1990.0 1427.2 L1994.0 1430.9 L1998.0 1434.5 L2002.0 1438.1 L2006.0 1441.6 L2010.0 1445.0 L2014.0 1448.3 L2018.0 1451.7 L2022.0 1454.9 L2026.0 1458.1 L2030.0 1461.2 L2034.0 1464.3 L2038.0 1467.3 L2042.0 1470.2 L2046.0 1473.1 L2050.0 1475.9 L2054.0 1478.5 L2058.0 1481.1 L2062.0 1483.5 L2066.0 1485.8 L2070.0 1488.0 L2074.0 1490.1 L2078.0 1492.0 L2082.0 1493.8 L2086.0 1495.4 L2090.0 1496.9 L2094.0 1498.3 L2098.0 1499.6 L2102.0 1500.7 L2106.0 1501.7 L2110.0 1502.6 L2114.0 1503.4 L2118.0 1504.0 L2122.0 1504.6 L2126.0 1505.1 L2130.0 1505.6 L2134.0 1505.9 L2138.0 1506.2 L2142.0 1506.5 L2146.0 1506.7 L2150.0 1506.9 L2154.0 1507.0 L2158.0 1507.1 L2162.0 1507.2 L2166.0 1507.3 L2170.0 1507.3 L2174.0 1507.4 L2178.0 1507.4 L2182.0 1507.4 L2186.0 1507.4 L2190.0 1507.4 L2194.0 1507.4 L2198.0 1507.4 L2199.0 1507.4" stroke="#33c19e"/>
<path d="M388.0 1507.2 L392.0 1507.2 L396.0 1507.0 L400.0 1506.9 L404.0 1506.8 L408.0 1506.6 L412.0 1506.4 L416.0 1506.2 L420.0 1506.0 L424.0 1505.6 L428.0 1505.3 L432.0 1504.8 L436.0 1504.3 L440.0 1503.7 L444.0 1502.9 L448.0 1502.0 L452.0 1500.9 L456.0 1499.6 L460.0 1498.0 L464.0 1496.1 L468.0 1493.9 L472.0 1491.2 L476.0 1488.2 L480.0 1484.6 L484.0 1480.4 L488.0 1475.6 L492.0 1470.1 L496.0 1463.8 L500.0 1456.7 L504.0 1448.7 L508.0 1439.8 L512.0 1429.8 L516.0 1418.8 L520.0 1406.7 L524.0 1393.4 L528.0 1379.0 L532.0 1363.4 L536.0 1346.6 L540.0 1328.6 L544.0 1309.5 L548.0 1289.2 L552.0 1267.8 L556.0 1245.3 L560.0 1221.8 L564.0 1197.4 L568.0 1171.9 L572.0 1145.7 L576.0 1118.6 L580.0 1090.8 L584.0 1062.3 L588.0 1033.2 L592.0 1003.6 L596.0 973.4 L600.0 942.9 L604.0 912.0 L608.0 880.9 L612.0 849.5 L616.0 818.0 L620.0 786.5 L624.0 754.9 L628.0 723.5 L632.0 692.3 L636.0 661.3 L640.0 630.6 L644.0 600.4 L648.0 570.6 L652.0 541.4 L656.0 512.8 L660.0 484.9 L664.0 457.7 L668.0 431.3 L672.0 405.8 L676.0 381.1 L680.0 357.3 L684.0 334.5 L688.0 312.7 L692.0 291.8 L696.0 272.1 L700.0 253.4 L704.0 235.8 L708.0 219.3 L712.0 204.0 L716.0 189.8 L720.0 176.9 L724.0 165.0 L728.0 154.4 L732.0 144.8 L736.0 136.4 L740.0 129.0 L744.0 122.7 L748.0 117.3 L752.0 112.7 L756.0 109.0 L760.0 106.0 L764.0 103.7 L768.0 102.0 L772.0 100.8 L776.0 100.2 L780.0 100.0 L784.0 100.2 L788.0 100.8 L792.0 101.8 L796.0 103.2 L800.0 105.0 L804.0 107.1 L808.0 109.6 L812.0 112.4 L816.0 115.5 L820.0 118.9 L824.0 122.7 L828.0 126.6 L832.0 130.8 L836.0 135.3 L840.0 139.8 L844.0 144.5 L848.0 149.3 L852.0 154.1 L856.0 159.0 L860.0 163.9 L864.0 168.9 L868.0 173.8 L872.0 178.8 L876.0 183.9 L880.0 189.0 L884.0 194.1 L888.0 199.4 L892.0 204.7 L896.0 210.1 L900.0 215.6 L904.0 221.2 L908.0 226.9 L912.0 232.6 L916.0 238.4 L920.0 244.1 L924.0 249.8 L928.0 255.5 L932.0 261.0 L936.0 266.4 L940.0 271.7 L944.0 276.8 L948.0 281.7 L952.0 286.4 L956.0 290.9 L960.0 295.2 L964.0 299.2 L968.0 303.1 L972.0 306.8 L976.0 310.2 L980.0 313.5 L984.0 316.5 L988.0 319.4 L992.0 322.1 L996.0 324.5 L1000.0 326.8 L1004.0 328.8 L1008.0 330.6 L1012.0 332.3 L1016.0 333.7 L1020.0 335.0 L1024.0 336.1 L1028.0 337.0 L1032.0 337.8 L1036.0 338.4 L1040.0 338.9 L1044.0 339.4 L1048.0 339.8 L1052.0 340.1 L1056.0 340.5 L1060.0 340.8 L1064.0 341.2 L1068.0 341.7 L1072.0 342.2 L1076.0 342.9 L1080.0 343.7 L1084.0 344.6 L1088.0 345.7 L1092.0 347.1 L1096.0 348.7 L1100.0 350.5 L1104.0 352.6 L1108.0 355.0 L1112.0 357.7 L1116.0 360.8 L1120.0 364.2 L1124.0 368.1 L1128.0 372.4 L1132.0 377.1 L1136.0 382.2 L1140.0 387.8 L1144.0 394.0 L1148.0 400.6 L1152.0 407.6 L1156.0 415.2 L1160.0 423.3 L1164.0 431.8 L1168.0 440.8 L1172.0 450.2 L1176.0 460.0 L1180.0 470.1 L1184.0 480.6 L1188.0 491.3 L1192.0 502.2 L1196.0 513.3 L1200.0 524.4 L1204.0 535.7 L1208.0 546.9 L1212.0 558.2 L1216.0 569.4 L1220.0 580.5 L1224.0 591.6 L1228.0 602.5 L1232.0 613.4 L1236.0 624.2 L1240.0 634.9 L1244.0 645.5 L1248.0 656.1 L1252.0 666.7 L1256.0 677.2 L1260.0 687.7 L1264.0 698.2 L1268.0 708.7 L1272.0 719.1 L1276.0 729.4 L1280.0 739.6 L1284.0 749.8 L1288.0 759.8 L1292.0 769.6 L1296.0 779.1 L1300.0 788.5 L1304.0 797.6 L1308.0 806.4 L1312.0 814.9 L1316.0 823.1 L1320.0 831.0 L1324.0 838.5 L1328.0 845.8 L1332.0 852.8 L1336.0 859.6 L1340.0 866.0 L1344.0 872.2 L1348.0 878.1 L1352.0 883.8 L1356.0 889.2 L1360.0 894.4 L1364.0 899.2 L1368.0 903.8 L1372.0 908.1 L1376.0 912.0 L1380.0 915.6 L1384.0 918.8 L1388.0 921.6 L1392.0 924.0 L1396.0 926.0 L1400.0 927.6 L1404.0 928.7 L1408.0 929.5 L1412.0 929.8 L1416.0 929.8 L1420.0 929.3 L1424.0 928.5 L1428.0 927.3 L1432.0 925.8 L1436.0 924.0 L1440.0 921.8 L1444.0 919.4 L1448.0 916.8 L1452.0 913.9 L1456.0 910.8 L1460.0 907.5 L1464.0 904.0 L1468.0 900.4 L1472.0 896.7 L1476.0 893.0 L1480.0 889.2 L1484.0 885.4 L1488.0 881.7 L1492.0 878.0 L1496.0 874.4 L1500.0 871.0 L1504.0 867.7 L1508.0 864.5 L1512.0 861.6 L1516.0 858.8 L1520.0 856.3 L1524.0 853.9 L1528.0 851.8 L1532.0 849.9 L1536.0 848.1 L1540.0 846.6 L1544.0 845.3 L1548.0 844.3 L1552.0 843.4 L1556.0 842.7 L1560.0 842.3 L1564.0 842.1 L1568.0 842.2 L1572.0 842.5 L1576.0 843.0 L1580.0 843.8 L1584.0 844.9 L1588.0 846.2 L1592.0 847.7 L1596.0 849.5 L1600.0 851.5 L1604.0 853.7 L1608.0 856.1 L1612.0 858.7 L1616.0 861.5 L1620.0 864.4 L1624.0 867.5 L1628.0 870.7 L1632.0 874.0 L1636.0 877.4 L1640.0 881.0 L1644.0 884.7 L1648.0 888.5 L1652.0 892.4 L1656.0 896.5 L1660.0 900.7 L1664.0 905.0 L1668.0 909.5 L1672.0 914.1 L1676.0 918.9 L1680.0 923.8 L1684.0 928.9 L1688.0 934.1 L1692.0 939.4 L1696.0 945.0 L1700.0 950.7 L1704.0 956.5 L1708.0 962.6 L1712.0 968.8 L1716.0 975.2 L1720.0 981.9 L1724.0 988.7 L1728.0 995.8 L1732.0 1003.1 L1736.0 1010.6 L1740.0 1018.3 L1744.0 1026.2 L1748.0 1034.2 L1752.0 1042.4 L1756.0 1050.7 L1760.0 1059.1 L1764.0 1067.5 L1768.0 1076.0 L1772.0 1084.4 L1776.0 1092.7 L1780.0 1100.9 L1784.0 1109.0 L1788.0 1117.0 L1792.0 1124.8 L1796.0 1132.5 L1800.0 1140.0 L1804.0 1147.4 L1808.0 1154.7 L1812.0 1161.9 L1816.0 1169.1 L1820.0 1176.2 L1824.0 1183.3 L1828.0 1190.4 L1832.0 1197.6 L1836.0 1204.7 L1840.0 1211.9 L1844.0 1219.2 L1848.0 1226.5 L1852.0 1233.8 L1856.0 1241.1 L1860.0 1248.4 L1864.0 1255.7 L1868.0 1262.9 L1872.0 1270.1 L1876.0 1277.1 L1880.0 1284.0 L1884.0 1290.7 L1888.0 1297.3 L1892.0 1303.7 L1896.0 1310.0 L1900.0 1316.1 L1904.0 1322.0 L1908.0 1327.8 L1912.0 1333.4 L1916.0 1338.9 L1920.0 1344.3 L1924.0 1349.5 L1928.0 1354.7 L1932.0 1359.7 L1936.0 1364.7 L1940.0 1369.6 L1944.0 1374.4 L1948.0 1379.1 L1952.0 1383.8 L1956.0 1388.4 L1960.0 1392.9 L1964.0 1397.3 L1968.0 1401.6 L1972.0 1405.9 L1976.0 1410.1 L1980.0 1414.2 L1984.0 1418.2 L1988.0 1422.2 L1992.0 1426.1 L1996.0 1429.9 L2000.0 1433.7 L2004.0 1437.4 L2008.0 1441.0 L2012.0 1444.6 L2016.0 1448.1 L2020.0 1451.6 L2024.0 1455.0 L2028.0 1458.4 L2032.0 1461.7 L2036.0 1464.9 L2040.0 1468.0 L2044.0 1471.1 L2048.0 1474.0 L2052.0 1476.9 L2056.0 1479.6 L2060.0 1482.2 L2064.0 1484.6 L2068.0 1487.0 L2072.0 1489.2 L2076.0 1491.2 L2080.0 1493.1 L2084.0 1494.8 L2088.0 1496.4 L2092.0 1497.9 L2096.0 1499.2 L2100.0 1500.3 L2104.0 1501.4 L2108.0 1502.3 L2112.0 1503.1 L2116.0 1503.8 L2120.0 1504.4 L2124.0 1505.0 L2128.0 1505.4 L2132.0 1505.8 L2136.0 1506.1 L2140.0 1506.4 L2144.0 1506.6 L2148.0 1506.8 L2152.0 1506.9 L2156.0 1507.0 L2160.0 1507.1 L2164.0 1507.2 L2168.0 1507.3 L2172.0 1507.3 L2176.0 1507.3 L2180.0 1507.4 L2184.0 1507.4 L2188.0 1507.4 L2192.0 1507.4 L2196.0 1507.4 L2198.5 1507.4" stroke="#3de8bd"/>
</g>
<g stroke="#000" stroke-width="4.44" stroke-linecap="butt">
<line x1="508.00" y1="1507.90" x2="508.00" y2="1527.34"/>
<line x1="759.00" y1="1507.90" x2="759.00" y2="1527.34"/>
<line x1="1010.00" y1="1507.90" x2="1010.00" y2="1527.34"/>
<line x1="1261.00" y1="1507.90" x2="1261.00" y2="1527.34"/>
<line x1="1512.00" y1="1507.90" x2="1512.00" y2="1527.34"/>
<line x1="1763.00" y1="1507.90" x2="1763.00" y2="1527.34"/>
<line x1="2014.00" y1="1507.90" x2="2014.00" y2="1527.34"/>
<line x1="2265.00" y1="1507.90" x2="2265.00" y2="1527.34"/>
<line x1="282.56" y1="1507.90" x2="302.00" y2="1507.90"/>
<line x1="282.56" y1="1217.13" x2="302.00" y2="1217.13"/>
<line x1="282.56" y1="926.36" x2="302.00" y2="926.36"/>
<line x1="282.56" y1="635.59" x2="302.00" y2="635.59"/>
<line x1="282.56" y1="344.82" x2="302.00" y2="344.82"/>
<line x1="282.56" y1="54.05" x2="302.00" y2="54.05"/>
</g>
<rect x="302.00" y="28.90" width="1984.00" height="1479.00" fill="none" stroke="#000" stroke-width="4.44" stroke-linejoin="miter"/>
<g text-anchor="middle">
<text x="508.30" y="1589.30">12.5</text>
<text x="759.30" y="1589.30">15.0</text>
<text x="1010.30" y="1589.30">17.5</text>
<text x="1261.30" y="1589.30">20.0</text>
<text x="1512.30" y="1589.30">22.5</text>
<text x="1763.30" y="1589.30">25.0</text>
<text x="2014.30" y="1589.30">27.5</text>
<text x="2265.30" y="1589.30">30.0</text>
</g>
<g text-anchor="end">
<text x="263.00" y="1529.40">0.000</text>
<text x="263.00" y="1238.63">0.005</text>
<text x="263.00" y="947.86">0.010</text>
<text x="263.00" y="657.09">0.015</text>
<text x="263.00" y="366.32">0.020</text>
<text x="263.00" y="75.55">0.025</text>
</g>
<text x="1294.00" y="1665.60" text-anchor="middle">Latency [ms]</text>
<text transform="translate(69.00 768.40) rotate(-90)" text-anchor="middle">Latency kernel density estimation</text>
<rect x="1784.20" y="57.00" width="473.90" height="507.30" rx="11.1" ry="11.1" fill="#ffffff" fill-opacity="0.8" stroke="#cccccc" stroke-opacity="0.8" stroke-width="5.56"/>
<text x="2021.15" y="120.80" text-anchor="middle">Payload [bytes]</text>
<line x1="1869.00" y1="184.00" x2="1988.00" y2="184.00" stroke="#3de8bd" stroke-width="8.33" stroke-linecap="butt"/>
<text x="2028.90" y="203.20">200</text>
<line x1="1869.00" y1="265.70" x2="1988.00" y2="265.70" stroke="#33c19e" stroke-width="8.33" stroke-linecap="butt"/>
<text x="2028.90" y="284.90">400</text>
<line x1="1869.00" y1="347.40" x2="1988.00" y2="347.40" stroke="#299b7e" stroke-width="8.33" stroke-linecap="butt"/>
<text x="2028.90" y="366.60">600</text>
<line x1="1869.00" y1="429.10" x2="1988.00" y2="429.10" stroke="#1f745f" stroke-width="8.33" stroke-linecap="butt"/>
<text x="2028.90" y="448.30">800</text>
<line x1="1869.00" y1="510.80" x2="1988.00" y2="510.80" stroke="#144d3f" stroke-width="8.33" stroke-linecap="butt"/>
<text x="2028.90" y="530.00">1000</text>
</svg></body></html>
